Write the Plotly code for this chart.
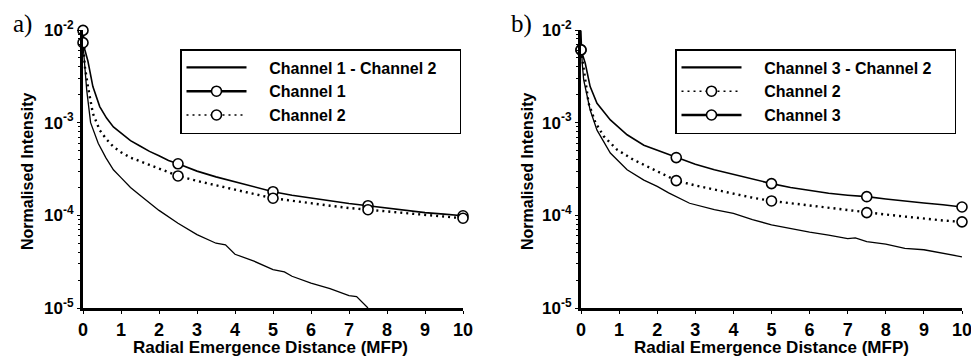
import plotly.graph_objects as go

# ---------------- Panel a data ----------------
a_diff_x = [0, 0.05, 0.1, 0.2, 0.4, 0.6, 0.8, 1.0, 1.25, 1.5, 2, 2.5, 3, 3.5, 3.75, 4, 4.5, 5, 5.3, 5.5, 6, 6.5, 7, 7.2, 7.5]
a_diff_y = [7e-3, 3.5e-3, 2.2e-3, 1.0e-3, 6.0e-4, 4.2e-4, 3.1e-4, 2.55e-4, 2.0e-4, 1.65e-4, 1.13e-4, 8.2e-5, 6.2e-5,
            5.0e-5, 4.8e-5, 3.8e-5, 3.2e-5, 2.6e-5, 2.45e-5, 2.2e-5, 1.86e-5, 1.62e-5, 1.36e-5, 1.33e-5, 1.0e-5]

a_ch1_x = [0, 0.05, 0.13, 0.26, 0.44, 0.62, 0.8, 1.0, 1.25, 1.5, 1.75, 2, 2.25, 2.5, 3, 3.5, 4, 4.5, 5, 5.5, 6, 6.5,
           7, 7.5, 8, 8.5, 9, 9.5, 10]
a_ch1_y = [9.9e-3, 6.1e-3, 4.6e-3, 2.45e-3, 1.49e-3, 1.12e-3, 9.0e-4, 7.7e-4, 6.4e-4, 5.6e-4, 4.9e-4, 4.4e-4, 3.9e-4,
           3.6e-4, 3.0e-4, 2.6e-4, 2.3e-4, 2.0e-4, 1.8e-4, 1.65e-4, 1.53e-4, 1.43e-4, 1.34e-4, 1.27e-4, 1.2e-4,
           1.13e-4, 1.07e-4, 1.03e-4, 9.9e-5]

a_ch2_x = [0, 0.05, 0.13, 0.26, 0.44, 0.62, 0.8, 1.0, 1.25, 1.5, 1.75, 2, 2.25, 2.5, 3, 3.5, 4, 4.5, 5, 5.5, 6, 6.5,
           7, 7.5, 8, 8.5, 9, 9.5, 10]
a_ch2_y = [7.3e-3, 4.0e-3, 2.45e-3, 1.26e-3, 8.3e-4, 6.6e-4, 5.5e-4, 4.8e-4, 4.2e-4, 3.8e-4, 3.5e-4, 3.2e-4, 2.9e-4,
           2.66e-4, 2.35e-4, 2.1e-4, 1.9e-4, 1.7e-4, 1.53e-4, 1.43e-4, 1.35e-4, 1.27e-4, 1.2e-4, 1.15e-4, 1.09e-4,
           1.04e-4, 1.0e-4, 9.6e-5, 9.3e-5]

marker_x = [0, 2.5, 5, 7.5, 10]
a_ch1_mk = [9.9e-3, 3.6e-4, 1.8e-4, 1.27e-4, 9.9e-5]
a_ch2_mk = [7.3e-3, 2.66e-4, 1.53e-4, 1.15e-4, 9.3e-5]

# ---------------- Panel b data ----------------
b_diff_x = [0, 0.03, 0.07, 0.24, 0.42, 0.77, 1.21, 1.65, 2, 2.3, 2.85, 3.5, 4, 4.5, 5, 5.5, 6, 6.5, 7, 7.2, 7.5, 8,
            8.5, 9, 9.5, 10]
b_diff_y = [9.9e-3, 4.5e-3, 2.9e-3, 1.37e-3, 8.3e-4, 4.7e-4, 3.1e-4, 2.4e-4, 2.05e-4, 1.75e-4, 1.35e-4, 1.15e-4,
            1.05e-4, 9.0e-5, 7.9e-5, 7.2e-5, 6.6e-5, 6.1e-5, 5.6e-5, 5.7e-5, 5.2e-5, 4.9e-5, 4.4e-5, 4.25e-5,
            3.9e-5, 3.57e-5]

b_ch3_x = [0, 0.11, 0.24, 0.42, 0.77, 1.21, 1.65, 2.18, 2.5, 3, 3.5, 4, 4.5, 5, 5.5, 6, 6.5, 7, 7.5, 8, 8.5, 9,
           9.5, 10]
b_ch3_y = [6.1e-3, 4.4e-3, 2.45e-3, 1.62e-3, 1.07e-3, 7.4e-4, 5.7e-4, 4.7e-4, 4.2e-4, 3.55e-4, 3.1e-4, 2.75e-4,
           2.45e-4, 2.2e-4, 2.0e-4, 1.85e-4, 1.73e-4, 1.65e-4, 1.59e-4, 1.5e-4, 1.42e-4, 1.36e-4, 1.3e-4, 1.23e-4]

b_ch2_x = [0, 0.07, 0.2, 0.38, 0.6, 0.95, 1.39, 1.92, 2.5, 3, 3.5, 4, 4.5, 5, 5.5, 6, 6.5, 7, 7.5, 8, 8.5, 9, 9.5, 10]
b_ch2_y = [6.1e-3, 3.7e-3, 1.62e-3, 1.0e-3, 7.1e-4, 5.1e-4, 3.95e-4, 3.1e-4, 2.37e-4, 2.1e-4, 1.9e-4, 1.72e-4,
           1.55e-4, 1.43e-4, 1.35e-4, 1.27e-4, 1.2e-4, 1.13e-4, 1.07e-4, 1.02e-4, 9.7e-5, 9.2e-5, 8.8e-5, 8.5e-5]

b_ch3_mk = [6.1e-3, 4.2e-4, 2.2e-4, 1.59e-4, 1.23e-4]
b_ch2_mk = [6.1e-3, 2.37e-4, 1.43e-4, 1.07e-4, 8.5e-5]

x_ticks = list(range(0, 11))
y_tickvals = [1e-5, 1e-4, 1e-3, 1e-2]
y_ticktext = ["10<sup>-5</sup>", "10<sup>-4</sup>", "10<sup>-3</sup>", "10<sup>-2</sup>"]
y_minor = [m * 10 ** e for e in (-5, -4, -3) for m in range(2, 10)]

FONT = "Liberation Sans, Arial, sans-serif"
BLACK = "black"
DOT = "2px,4px"
PAD = "\u00a0" * 4
TAIL = "\u00a0" * 4

fig = go.Figure()

def line(x, y, xa, ya, width, dash="solid"):
    fig.add_trace(go.Scatter(x=x, y=y, xaxis=xa, yaxis=ya, mode="lines",
                             line=dict(color=BLACK, width=width, dash=dash),
                             showlegend=False, hoverinfo="skip"))

def marks(x, y, xa, ya):
    fig.add_trace(go.Scatter(x=x, y=y, xaxis=xa, yaxis=ya, mode="markers", cliponaxis=False,
                             marker=dict(symbol="circle", size=10, color="white",
                                         line=dict(color=BLACK, width=1.6)),
                             showlegend=False, hoverinfo="skip"))

def legend_entry(name, xa, ya, leg, width, dash, with_marker):
    fig.add_trace(go.Scatter(x=[None], y=[None], xaxis=xa, yaxis=ya,
                             name=PAD + name + TAIL, legend=leg,
                             mode="lines+markers" if with_marker else "lines",
                             line=dict(color=BLACK, width=width, dash=dash),
                             marker=dict(symbol="circle", size=10, color="white",
                                         line=dict(color=BLACK, width=1.6))))

# Panel a
line(a_diff_x, a_diff_y, "x", "y", 1.3)
line(a_ch1_x, a_ch1_y, "x", "y", 1.6)
line(a_ch2_x, a_ch2_y, "x", "y", 2.4, DOT)
marks(marker_x, a_ch1_mk, "x", "y")
marks(marker_x, a_ch2_mk, "x", "y")
legend_entry("Channel 1 - Channel 2", "x", "y", "legend", 2.4, "solid", False)
legend_entry("Channel 1", "x", "y", "legend", 2.4, "solid", True)
legend_entry("Channel 2", "x", "y", "legend", 1.6, DOT, True)

# Panel b
line(b_diff_x, b_diff_y, "x2", "y2", 1.3)
line(b_ch3_x, b_ch3_y, "x2", "y2", 1.6)
line(b_ch2_x, b_ch2_y, "x2", "y2", 2.4, DOT)
marks(marker_x, b_ch3_mk, "x2", "y2")
marks(marker_x, b_ch2_mk, "x2", "y2")
legend_entry("Channel 3 - Channel 2", "x2", "y2", "legend2", 2.4, "solid", False)
legend_entry("Channel 2", "x2", "y2", "legend2", 1.6, DOT, True)
legend_entry("Channel 3", "x2", "y2", "legend2", 2.4, "solid", True)

W, H = 971, 356
ydom = [48 / H, 326 / H]

xaxis_common = dict(range=[0, 10], tickvals=x_ticks, ticks="outside", ticklen=3, tickwidth=1,
                    tickcolor=BLACK, showline=True, linecolor=BLACK, linewidth=3, showgrid=False,
                    zeroline=False, automargin=False, ticklabeloverflow="allow",
                    tickfont=dict(family=FONT, size=18, color=BLACK, weight="bold"),
                    fixedrange=True)
yaxis_common = dict(type="log", range=[-5, -2], tickvals=y_tickvals, ticktext=y_ticktext,
                    ticks="outside", ticklen=3, tickwidth=1, tickcolor=BLACK,
                    minor=dict(tickvals=y_minor, ticks="outside", ticklen=2, tickwidth=1, tickcolor=BLACK,
                               showgrid=False),
                    showline=True, linecolor=BLACK, linewidth=3, showgrid=False, zeroline=False,
                    automargin=False, ticklabeloverflow="allow",
                    tickfont=dict(family=FONT, size=17, color=BLACK, weight="bold"), fixedrange=True)

legend_common = dict(xanchor="left", yanchor="top", y=1 - 49 / H, bgcolor="white",
                     bordercolor=BLACK, borderwidth=1.5, itemwidth=60, itemclick=False,
                     font=dict(family=FONT, size=16, color=BLACK, weight="bold"),
                     tracegroupgap=0)

fig.update_layout(
    width=W, height=H, margin=dict(l=0, r=0, t=0, b=0, autoexpand=False),
    paper_bgcolor="white", plot_bgcolor="white",
    xaxis=dict(domain=[83 / W, 463 / W], anchor="y", **xaxis_common),
    yaxis=dict(domain=ydom, anchor="x", **yaxis_common),
    xaxis2=dict(domain=[581 / W, 962 / W], anchor="y2", **xaxis_common),
    yaxis2=dict(domain=ydom, anchor="x2", **yaxis_common),
    legend=dict(x=180 / W, **legend_common),
    legend2=dict(x=675 / W, **legend_common),
)

ann_font = dict(family=FONT, size=17, color=BLACK, weight="bold")
anns = [
    dict(text="Radial Emergence Distance (MFP)", x=270 / W, y=1 - 347 / H, font=ann_font),
    dict(text="Radial Emergence Distance (MFP)", x=771 / W, y=1 - 347 / H, font=ann_font),
    dict(text="Normalised Intensity", x=27 / W, y=1 - 172 / H, textangle=-90,
         font=dict(family=FONT, size=16, color=BLACK, weight="bold")),
    dict(text="Normalised Intensity", x=527 / W, y=1 - 172 / H, textangle=-90,
         font=dict(family=FONT, size=16, color=BLACK, weight="bold")),
    dict(text="a)", x=22 / W, y=1 - 24 / H,
         font=dict(family="Liberation Serif, Times New Roman, serif", size=25, color=BLACK)),
    dict(text="b)", x=521 / W, y=1 - 24 / H,
         font=dict(family="Liberation Serif, Times New Roman, serif", size=25, color=BLACK)),
]
for a in anns:
    a.update(xref="paper", yref="paper", showarrow=False, xanchor="center", yanchor="middle")
    fig.add_annotation(**a)

fig.write_html("out.html")
